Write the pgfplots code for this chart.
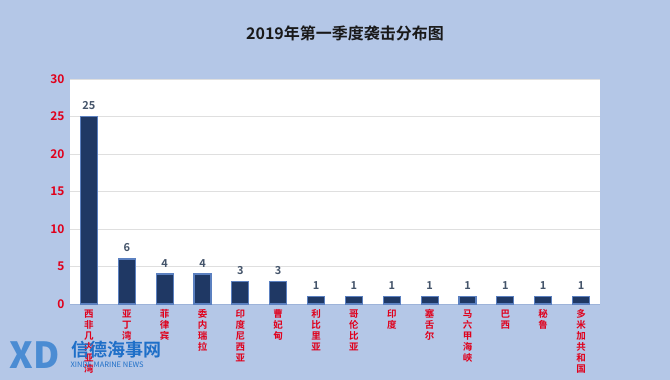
\documentclass[border=0pt]{standalone}
\usepackage{pgfplots}
\pgfplotsset{compat=1.18}
\usepackage{fontspec}
\setmainfont{Noto Sans CJK SC}[BoldFont={Noto Sans CJK SC Bold}]
\definecolor{bgblue}{HTML}{B4C7E7}
\definecolor{barfill}{HTML}{1F3864}
\definecolor{baredge}{HTML}{5B80C0}
\definecolor{ticred}{HTML}{E0001B}
\definecolor{vallab}{HTML}{44546A}
\definecolor{logoblue}{HTML}{1E6FC8}
\begin{document}
\begin{tikzpicture}[x=1pt,y=1pt]
\fill[bgblue] (0,0) rectangle (670,380);
\useasboundingbox (0,0) rectangle (670,380);
\begin{axis}[
  at={(70pt,76pt)}, anchor=south west,
  scale only axis, width=530pt, height=225pt,
  axis background/.style={fill=white},
  xmin=-0.5, xmax=13.5, ymin=0, ymax=30,
  ytick={0,5,10,15,20,25,30},
  xtick={0,...,13},
  xticklabels={{西\\非\\几\\内\\亚\\湾},{亚\\丁\\湾},{菲\\律\\宾},{委\\内\\瑞\\拉},{印\\度\\尼\\西\\亚},{曹\\妃\\甸},{利\\比\\里\\亚},{哥\\伦\\比\\亚},{印\\度},{塞\\舌\\尔},{马\\六\\甲\\海\\峡},{巴\\西},{秘\\鲁},{多\\米\\加\\共\\和\\国}},
  xticklabel style={align=center, font=\bfseries\fontsize{9.5}{11}\selectfont, text=ticred, anchor=north, yshift=-2pt},
  yticklabel style={font=\bfseries\fontsize{12}{13}\selectfont, text=ticred, xshift=-2pt},
  /pgf/number format/assume math mode=true,
  major tick length=0pt,
  ymajorgrids, grid style={draw=gray!25, line width=0.6pt},
  axis line style={draw=none},
  axis x line*=bottom,
  axis y line*=left,
  x axis line style={draw=baredge!60, line width=0.8pt},
  y axis line style={draw=none},
  enlargelimits=false,
  clip=false,
]
\addplot[ybar, bar width=17pt, fill=barfill, draw=baredge, line width=1.2pt,
  nodes near coords,
  every node near coord/.append style={font=\bfseries\fontsize{11}{12}\selectfont, text=vallab, yshift=3pt}]
  coordinates {(0,25) (1,6) (2,4) (3,4) (4,3) (5,3) (6,1) (7,1) (8,1) (9,1) (10,1) (11,1) (12,1) (13,1)};
\end{axis}
\node[font=\bfseries\fontsize{16}{18}\selectfont, text=black!90] at (345,347) {2019年第一季度袭击分布图};
\node[font=\bfseries\itshape\fontsize{36}{36}\selectfont, text=logoblue!80, anchor=west] at (6,25) {XD};
\node[font=\bfseries\fontsize{18}{19}\selectfont, text=logoblue, anchor=west] at (68,30) {信德海事网};
\node[font=\fontsize{7.5}{8}\selectfont, text=logoblue, anchor=west] at (67,15) {XINDE MARINE NEWS};
\end{tikzpicture}
\end{document}
